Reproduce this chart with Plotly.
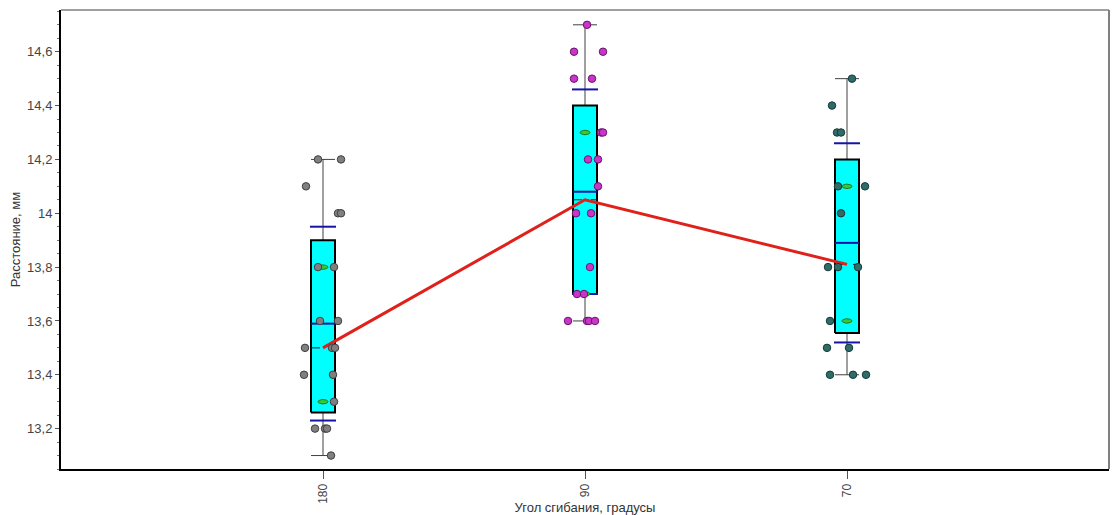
import numpy as np
import plotly.graph_objects as go

# ---------------- data ----------------
categories = ["180", "90", "70"]
q1 = [13.26, 13.70, 13.555]
q3 = [13.90, 14.40, 14.20]
medians = [13.50, 14.05, 13.81]
means = [13.59, 14.08, 13.89]
sds = [0.36, 0.38, 0.37]
whisker_low = [13.1, 13.6, 13.4]
whisker_high = [14.2, 14.7, 14.5]
green_marks = [[13.8, 13.3], [14.3, 13.7], [14.1, 13.6]]

vals_180 = [14.2, 14.2, 14.1, 14.0, 14.0, 13.8, 13.8, 13.6, 13.6, 13.5, 13.5, 13.5,
            13.4, 13.4, 13.3, 13.2, 13.2, 13.2, 13.1]
jit_180 = [-5, 18, -17, 15, 18, -5, 11, -3, 15, -18, 9, 12, -19, 10, 11, -8, 2, 4, 8]

vals_90 = [14.7, 14.6, 14.6, 14.5, 14.5, 14.3, 14.3, 14.2, 14.2, 14.1, 14.0, 14.0,
           13.8, 13.7, 13.7, 13.6, 13.6, 13.6, 13.6]
jit_90 = [2, -11, 18, -11, 7, 16, 18, 3, 13, 13, -9, 6, 5, -8, -1, -17, 2, 4, 10]

vals_70 = [14.5, 14.4, 14.3, 14.3, 14.1, 14.1, 14.0, 13.8, 13.8, 13.8, 13.6,
           13.5, 13.5, 13.4, 13.4, 13.4]
jit_70 = [5, -15, -10, -6, -9, 18, -6, -19, -9, 11, -17, -20, 2, -17, 6, 19]

y_tickvals = [13.2, 13.4, 13.6, 13.8, 14.0, 14.2, 14.4, 14.6]
y_ticktext = ["13,2", "13,4", "13,6", "13,8", "14", "14,2", "14,4", "14,6"]

# ---------------- styling ----------------
PX = 262.0           # pixels per category unit (x)
PY = 269.5           # pixels per data unit (y)
HW = 12 / PX         # half width of box
CAP = 12 / PX        # half width of whisker cap
SDW = 13 / PX        # half width of SD ticks
FONT = "Liberation Sans, Arial, sans-serif"
pt_fill = ["#808080", "#C835C8", "#2F6B68"]
pt_line = ["#3f3f3f", "#6a156a", "#163a38"]
BLUE = "#1414A8"

xpos = list(range(len(categories)))
fig = go.Figure()

def seg_trace(xs, ys, color, width, dash="solid"):
    fig.add_trace(go.Scatter(x=xs, y=ys, mode="lines", line=dict(color=color, width=width, dash=dash),
                             hoverinfo="skip", showlegend=False))

# whiskers (vertical + caps)
wx, wy = [], []
for i, c in enumerate(xpos):
    wx += [c, c, None, c - CAP, c + CAP, None, c - CAP, c + CAP, None]
    wy += [whisker_low[i], whisker_high[i], None, whisker_low[i], whisker_low[i], None,
           whisker_high[i], whisker_high[i], None]
seg_trace(wx, wy, "#404040", 1)

# boxes
for i, c in enumerate(xpos):
    fig.add_trace(go.Scatter(x=[c - HW, c + HW, c + HW, c - HW, c - HW],
                             y=[q1[i], q1[i], q3[i], q3[i], q1[i]],
                             mode="lines", fill="toself", fillcolor="#00FFFF",
                             line=dict(color="#000000", width=2), hoverinfo="skip", showlegend=False))

# median dashed
mx, my = [], []
for i, c in enumerate(xpos):
    mx += [c - HW, c + HW, None]
    my += [medians[i], medians[i], None]
seg_trace(mx, my, "#202020", 1, "dash")

# mean line and SD ticks
ax, ay = [], []
for i, c in enumerate(xpos):
    ax += [c - HW, c + HW, None]
    ay += [means[i], means[i], None]
    for s in (-1, 1):
        v = means[i] + s * sds[i]
        ax += [c - SDW, c + SDW, None]
        ay += [v, v, None]
seg_trace(ax, ay, BLUE, 2)

# green ellipses
t = np.linspace(0, 2 * np.pi, 25)
ex, ey = [], []
for i, c in enumerate(xpos):
    for g in green_marks[i]:
        ex += list(c + (5 / PX) * np.cos(t)) + [None]
        ey += list(g + (2.2 / PY) * np.sin(t)) + [None]
fig.add_trace(go.Scatter(x=ex, y=ey, mode="lines", fill="toself", fillcolor="#33CC33",
                         line=dict(color="#1E7A1E", width=1), hoverinfo="skip", showlegend=False))

# red median connection line
fig.add_trace(go.Scatter(x=xpos, y=medians, mode="lines", line=dict(color="#E0201A", width=3),
                         hoverinfo="skip", showlegend=False))

# points
for i, (vals, jit) in enumerate([(vals_180, jit_180), (vals_90, jit_90), (vals_70, jit_70)]):
    fig.add_trace(go.Scatter(x=[xpos[i] + j / PX for j in jit], y=vals, mode="markers",
                             marker=dict(size=7.5, color=pt_fill[i], line=dict(color=pt_line[i], width=1)),
                             hoverinfo="skip", showlegend=False))

# top and right frame (gray)
fig.add_shape(type="line", xref="paper", yref="paper", x0=0, x1=1, y0=1, y1=1,
              line=dict(color="#808080", width=1.5))
fig.add_shape(type="line", xref="paper", yref="paper", x0=1, x1=1, y0=0, y1=1,
              line=dict(color="#808080", width=2))

fig.update_layout(
    width=1112, height=515, autosize=False,
    margin=dict(l=61, r=3, t=10, b=46),
    paper_bgcolor="white", plot_bgcolor="white",
    font=dict(family=FONT, size=12, color="#333333"),
    showlegend=False,
    xaxis=dict(
        range=[-1, 3], tickvals=xpos, ticktext=categories, tickangle=-90,
        showgrid=False, zeroline=False, showline=True, linecolor="#000000", linewidth=2,
        ticks="outside", ticklen=8, tickcolor="#555555", automargin=False,
        title=dict(text="Угол сгибания, градусы", font=dict(size=13, color="#333333"), standoff=2),
        tickfont=dict(size=12, color="#444444"),
    ),
    yaxis=dict(
        range=[13.05, 14.755], tickvals=y_tickvals, ticktext=y_ticktext,
        showgrid=False, zeroline=False, showline=True, linecolor="#000000", linewidth=2,
        ticks="outside", ticklen=4, tickcolor="#555555", automargin=False,
        minor=dict(dtick=0.05, ticks="outside", ticklen=2, tickcolor="#777777", showgrid=False),
        title=dict(text="Расстояние, мм", font=dict(size=13, color="#333333"), standoff=4),
        tickfont=dict(size=13, color="#444444"),
    ),
)

fig.write_html("out.html", config={"displayModeBar": False},
               post_script="document.body.style.margin='0px';document.body.style.overflow='hidden';")
